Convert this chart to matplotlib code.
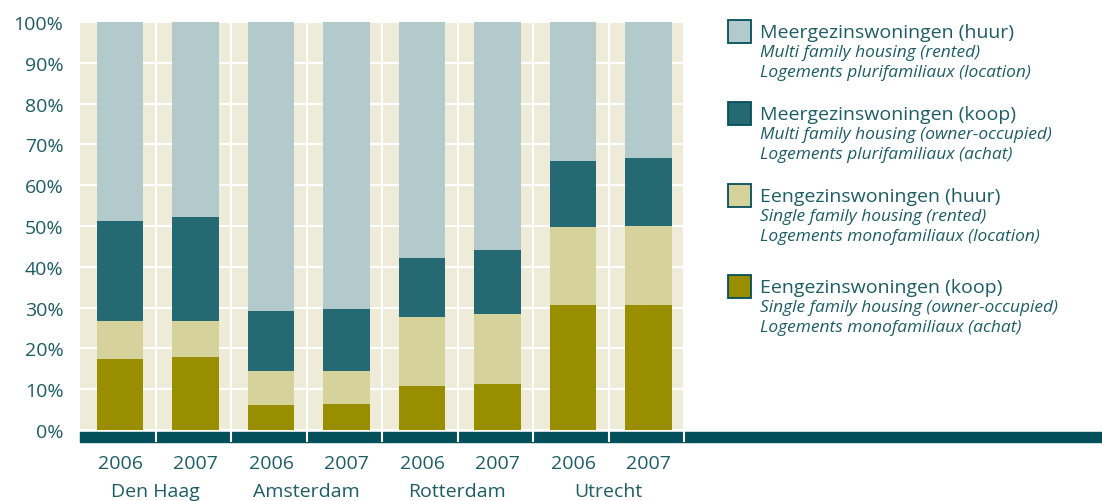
import matplotlib
matplotlib.use('Agg')
import matplotlib.pyplot as plt
from matplotlib.patches import Rectangle
import numpy as np

# ── data (aandeel in %)
steden = ['Den Haag', 'Amsterdam', 'Rotterdam', 'Utrecht']
jaren = ['2006', '2007', '2006', '2007', '2006', '2007', '2006', '2007']

eengezins_koop = [17.4, 17.9, 6.1, 6.4, 10.8, 11.3, 30.6, 30.6]
eengezins_huur = [9.3, 8.8, 8.4, 8.1, 16.9, 17.1, 19.2, 19.4]
meergezins_koop = [24.5, 25.5, 14.7, 15.2, 14.5, 15.7, 16.1, 16.7]
meergezins_huur = [48.8, 47.8, 70.8, 70.3, 57.8, 55.9, 34.1, 33.3]

series_labels = [
    ("Meergezinswoningen (huur)", "Multi family housing (rented)", "Logements plurifamiliaux (location)"),
    ("Meergezinswoningen (koop)", "Multi family housing (owner-occupied)", "Logements plurifamiliaux (achat)"),
    ("Eengezinswoningen (huur)", "Single family housing (rented)", "Logements monofamiliaux (location)"),
    ("Eengezinswoningen (koop)", "Single family housing (owner-occupied)", "Logements monofamiliaux (achat)"),
]

# ── stijl
TEKST = '#1d5d66'
ACHTERGROND = '#eeecd9'
BAND = '#034f5a'
KLEUREN = ['#b2cacc', '#256a72', '#d5d29b', '#988e00']
plt.rcParams['font.family'] = ['Open Sans', 'DejaVu Sans']

W, H = 1102, 502
fig = plt.figure(figsize=(W / 100, H / 100), dpi=100)
ax = fig.add_axes([80 / W, 1 - 431 / H, 604 / W, 408 / H])
ax.set_facecolor(ACHTERGROND)

x = np.arange(len(jaren)) + 0.03
breedte = 0.62
onder = np.zeros(len(jaren))
stapel = [eengezins_koop, eengezins_huur, meergezins_koop, meergezins_huur]
kleuren_stapel = KLEUREN[::-1]
for waarden, kleur in zip(stapel, kleuren_stapel):
    ax.bar(x, waarden, breedte, bottom=onder, color=kleur, zorder=3, linewidth=0)
    onder += np.array(waarden)

ax.set_xlim(-0.5, 7.5)
ax.set_ylim(0, 100)
ax.set_yticks(np.arange(0, 101, 10))
ax.set_yticklabels([f'{v}%' for v in range(0, 101, 10)])
ax.tick_params(axis='y', length=0, pad=12, labelsize=14, colors=TEKST)
ax.set_xticks([])
for s in ax.spines.values():
    s.set_visible(False)
ax.grid(axis='y', color='white', linewidth=1.5, zorder=1)
ax.set_axisbelow(True)

# verticale scheidingslijnen tussen kolommen (doorlopend door de band)
grenzen = np.arange(0.5, 8, 1.0)
ax.vlines(grenzen, -3, 100, color='white', linewidth=1.5, zorder=2, clip_on=False)

# donkere band onder de as
band = Rectangle((80 / W, 1 - 443 / H), 1 - 80 / W, 10 / H, transform=fig.transFigure,
                 color=BAND, zorder=-1)
fig.patches.append(band)

# jaar- en stadlabels
for i, j in enumerate(jaren):
    ax.text(i + 0.03, -8.2, j, ha='center', va='center', fontsize=14, color=TEKST, clip_on=False)
for k, stad in enumerate(steden):
    ax.text(2 * k + 0.5, -14.9, stad, ha='center', va='center', fontsize=14, color=TEKST, clip_on=False)

# legenda
y0 = [33, 115, 197, 288]
for (nl, en, fr), kleur, yy in zip(series_labels, KLEUREN, y0):
    fig.patches.append(Rectangle((728 / W, 1 - (yy + 11) / H), 23 / W, 23 / H,
                                 transform=fig.transFigure, facecolor=kleur,
                                 edgecolor=BAND, linewidth=1.3))
    fig.text(760 / W, 1 - yy / H, nl, fontsize=14, color=TEKST, va='center')
    fig.text(760 / W, 1 - (yy + 20) / H, en, fontsize=12.5, style='italic', color=TEKST, va='center')
    fig.text(760 / W, 1 - (yy + 40) / H, fr, fontsize=12.5, style='italic', color=TEKST, va='center')

fig.savefig('out.png', dpi=100, facecolor='white')
